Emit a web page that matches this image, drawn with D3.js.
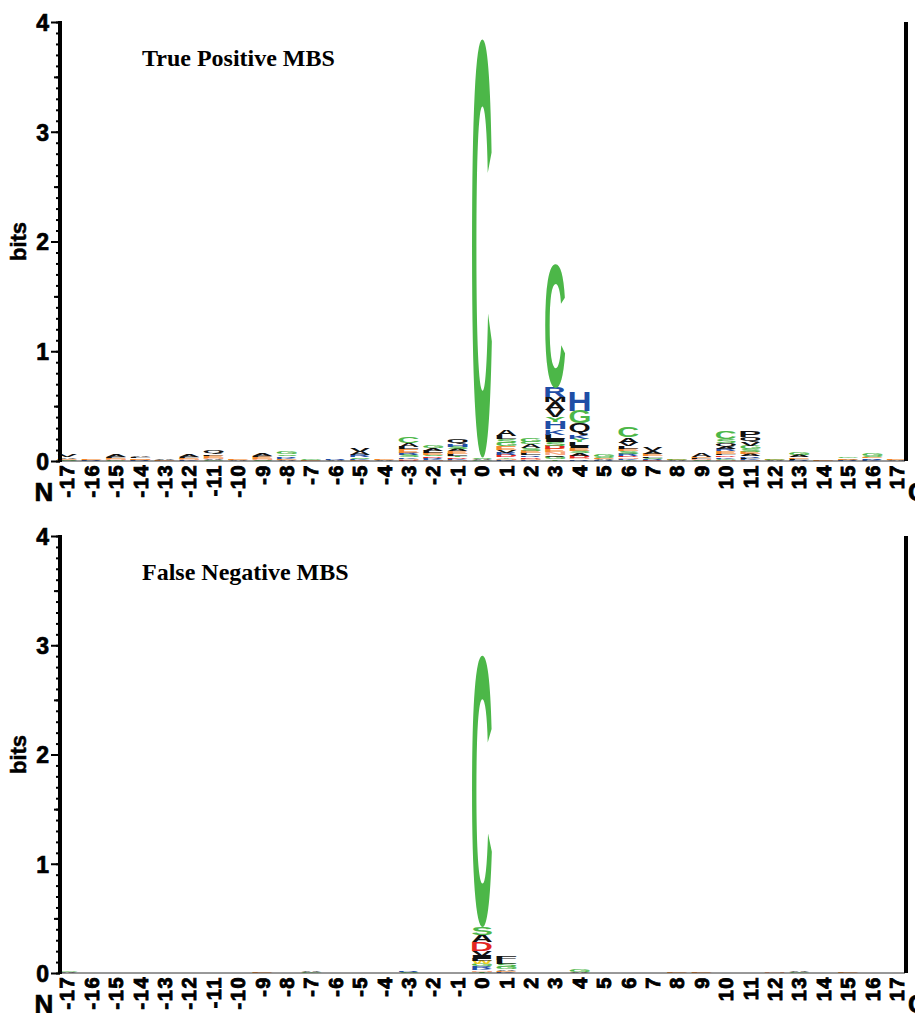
<!DOCTYPE html>
<html>
<head>
<meta charset="utf-8">
<script src="https://cdn.jsdelivr.net/npm/d3@7"></script>
<style>
  html, body { margin: 0; padding: 0; background: #fff; overflow: hidden; }
  svg { display: block; }
</style>
</head>
<body>
<script>
// positions along the motif, -17 .. 17
var positions = [-17,-16,-15,-14,-13,-12,-11,-10,-9,-8,-7,-6,-5,-4,-3,-2,-1,0,1,2,3,4,5,6,7,8,9,10,11,12,13,14,15,16,17];
var yTicks = [0, 1, 2, 3, 4];

// stacks: letter and bits, listed from top of stack to bottom
var truePositive = {
  "-17": [["V",0.02],["A",0.015],["E",0.01],["S",0.008]],
  "-16": [["E",0.006],["R",0.005]],
  "-15": [["A",0.02],["L",0.012],["E",0.015],["N",0.008],["G",0.006]],
  "-14": [["A",0.015],["L",0.01],["E",0.012],["N",0.008],["R",0.005]],
  "-13": [["A",0.006],["E",0.005]],
  "-12": [["A",0.018],["L",0.01],["E",0.014],["N",0.01],["K",0.006]],
  "-11": [["Q",0.035],["L",0.015],["E",0.02],["N",0.012],["A",0.01],["G",0.006]],
  "-10": [["E",0.006],["A",0.005]],
  "-9":  [["A",0.02],["L",0.01],["E",0.02],["N",0.012],["S",0.008]],
  "-8":  [["G",0.025],["S",0.015],["R",0.015],["K",0.01],["E",0.012],["A",0.008]],
  "-7":  [["G",0.006],["E",0.005],["A",0.004]],
  "-6":  [["R",0.006],["A",0.005]],
  "-5":  [["V",0.035],["A",0.03],["R",0.02],["S",0.012],["K",0.012],["E",0.01]],
  "-4":  [["E",0.006],["A",0.005]],
  "-3":  [["C",0.06],["A",0.035],["L",0.025],["E",0.03],["R",0.02],["S",0.018],["K",0.015],["N",0.012],["D",0.01]],
  "-2":  [["G",0.025],["A",0.02],["L",0.018],["E",0.02],["S",0.015],["D",0.012],["R",0.012],["K",0.01],["N",0.008]],
  "-1":  [["Q",0.04],["H",0.025],["S",0.025],["A",0.02],["E",0.02],["L",0.018],["T",0.015],["D",0.012],["K",0.012],["N",0.01]],
  "0":   [["C",3.82],["S",0.012],["A",0.01],["G",0.008]],
  "1":   [["A",0.06],["L",0.03],["S",0.035],["G",0.03],["E",0.03],["V",0.025],["R",0.02],["D",0.02],["Y",0.015],["N",0.012],["K",0.01]],
  "2":   [["G",0.03],["C",0.025],["A",0.035],["S",0.025],["E",0.02],["L",0.02],["R",0.015],["D",0.015],["N",0.012],["K",0.01]],
  "3":   [["C",1.13],["R",0.09],["M",0.045],["A",0.07],["V",0.065],["Y",0.045],["H",0.065],["K",0.05],["L",0.04],["I",0.03],["S",0.03],["D",0.03],["E",0.03],["N",0.025],["Q",0.02],["G",0.02],["T",0.015]],
  "4":   [["H",0.18],["G",0.12],["Q",0.1],["K",0.04],["Y",0.03],["L",0.03],["I",0.025],["E",0.025],["S",0.02],["A",0.02],["D",0.02],["N",0.015],["R",0.015]],
  "5":   [["G",0.02],["S",0.012],["E",0.01],["A",0.01],["R",0.008]],
  "6":   [["C",0.09],["A",0.05],["V",0.03],["L",0.025],["E",0.025],["S",0.02],["R",0.02],["D",0.015],["N",0.012],["K",0.01],["Y",0.01]],
  "7":   [["V",0.03],["A",0.025],["E",0.02],["L",0.015],["S",0.012],["R",0.01],["D",0.008]],
  "8":   [["G",0.01],["E",0.006],["A",0.005]],
  "9":   [["A",0.03],["E",0.015],["L",0.01],["N",0.01],["S",0.006]],
  "10":  [["C",0.07],["S",0.03],["Q",0.035],["A",0.025],["R",0.02],["E",0.02],["L",0.015],["D",0.015],["K",0.015],["G",0.012],["N",0.01]],
  "11":  [["P",0.06],["Q",0.045],["V",0.035],["G",0.03],["S",0.025],["E",0.02],["A",0.02],["R",0.015],["L",0.012],["K",0.01],["N",0.008]],
  "12":  [["G",0.01],["E",0.006],["A",0.005]],
  "13":  [["G",0.025],["A",0.02],["E",0.015],["L",0.01],["R",0.008]],
  "14":  [["E",0.005],["A",0.004]],
  "15":  [["G",0.012],["E",0.012],["A",0.008],["R",0.005]],
  "16":  [["G",0.02],["S",0.012],["E",0.012],["R",0.012],["A",0.008],["K",0.005]],
  "17":  [["E",0.006],["A",0.005]]
};

var falseNegative = {
  "-17": [["G",0.015],["A",0.006]],
  "-16": [["A",0.004]],
  "-15": [["A",0.004]],
  "-14": [["A",0.004]],
  "-13": [["A",0.004]],
  "-12": [["A",0.004]],
  "-11": [["A",0.004]],
  "-10": [["A",0.004]],
  "-9":  [["E",0.006]],
  "-8":  [["A",0.004]],
  "-7":  [["A",0.012],["G",0.006]],
  "-6":  [["A",0.004]],
  "-5":  [["A",0.004]],
  "-4":  [["A",0.004]],
  "-3":  [["R",0.01],["S",0.006]],
  "-2":  [["A",0.004]],
  "-1":  [["A",0.004]],
  "0":   [["C",2.49],["S",0.075],["A",0.065],["D",0.075],["V",0.045],["I",0.03],["L",0.02],["W",0.03],["G",0.02],["R",0.02],["K",0.015],["N",0.015],["T",0.01]],
  "1":   [["F",0.035],["L",0.03],["S",0.03],["G",0.02],["A",0.015],["E",0.01],["K",0.01]],
  "2":   [["A",0.004]],
  "3":   [["A",0.004]],
  "4":   [["G",0.02],["A",0.008]],
  "5":   [["G",0.004]],
  "6":   [["A",0.004]],
  "7":   [["A",0.004]],
  "8":   [["E",0.006]],
  "9":   [["E",0.006]],
  "10":  [["A",0.004]],
  "11":  [["A",0.004]],
  "12":  [["N",0.006]],
  "13":  [["A",0.01],["G",0.005]],
  "14":  [["A",0.004]],
  "15":  [["E",0.006]],
  "16":  [["G",0.004]],
  "17":  [["A",0.004]]
};

var colors = {
  C:"#4cb748", G:"#4cb748", S:"#4cb748", T:"#4cb748", Y:"#4cb748",
  H:"#1f4ea6", K:"#1f4ea6", R:"#1f4ea6",
  A:"#111", V:"#111", L:"#111", I:"#111", P:"#111", F:"#111", M:"#111", Q:"#111",
  D:"#e3261f", E:"#f4862a", N:"#f7a57f", W:"#f2cf25"
};

var W = 915, H = 1013;
var svg = d3.select("body").append("svg").attr("width", W).attr("height", H);

var x = d3.scaleBand().domain(positions).range([55, 55 + 35 * 24.4]);
var letterW = 20;

// glyph bounds from canvas so letters can be stretched to fill their slot
var FAM = "'Liberation Sans', Arial, sans-serif";
var ctx = document.createElement("canvas").getContext("2d");
ctx.font = "bold 100px " + FAM;
var gm = {};
function glyph(L) {
  if (!gm[L]) {
    var m = ctx.measureText(L);
    gm[L] = { x0: -m.actualBoundingBoxLeft, x1: m.actualBoundingBoxRight,
              y0: -m.actualBoundingBoxAscent, y1: m.actualBoundingBoxDescent };
  }
  return gm[L];
}

function drawPanel(stacks, title, yBase, yTopPx) {
  var y = d3.scaleLinear().domain([0, 4]).range([yBase, yTopPx]);
  var g = svg.append("g");

  // letters
  positions.forEach(function(p) {
    var st = stacks[String(p)].slice().reverse();
    var base = 0;
    var cx = x(p) + x.bandwidth() / 2;
    st.forEach(function(d) {
      var L = d[0], h = d[1];
      var top = y(base + h), bot = y(base);
      base += h;
      var hp = bot - top;
      if (hp <= 0) return;
      var gb = glyph(L);
      var sx = letterW / (gb.x1 - gb.x0), sy = hp / (gb.y1 - gb.y0);
      g.append("text")
        .attr("transform", "translate(" + (cx - letterW / 2) + "," + top + ") scale(" + sx + "," + sy + ") translate(" + (-gb.x0) + "," + (-gb.y0) + ")")
        .style("font", "bold 100px " + FAM)
        .attr("fill", colors[L] || "#111")
        .text(L);
    });
  });

  // baseline
  g.append("line").attr("x1", 60).attr("x2", 905).attr("y1", yBase).attr("y2", yBase)
    .attr("stroke", "#333").attr("stroke-width", 1);

  // minor ticks
  var minor = g.append("g").attr("transform", "translate(60,0)")
    .call(d3.axisLeft(y).tickValues(d3.range(0, 4.001, 0.1)).tickSize(4).tickFormat(""));
  minor.select(".domain").remove();
  minor.selectAll("line").attr("stroke", "#000").attr("stroke-width", 2);

  var mid = g.append("g").attr("transform", "translate(60,0)")
    .call(d3.axisLeft(y).tickValues([0.5, 1.5, 2.5, 3.5]).tickSize(6).tickFormat(""));
  mid.select(".domain").remove();
  mid.selectAll("line").attr("stroke", "#000").attr("stroke-width", 2);

  var major = g.append("g").attr("transform", "translate(60,0)")
    .call(d3.axisLeft(y).tickValues(yTicks).tickSize(9).tickPadding(2).tickFormat(d3.format("d")));
  major.select(".domain").remove();
  major.selectAll("line").attr("stroke", "#000").attr("stroke-width", 2);
  major.selectAll("text").attr("fill", "#000")
    .style("font", "bold 23px " + FAM).attr("dy", "0.36em")
    .attr("stroke", "#000").attr("stroke-width", 0.7);

  // y axis line + right frame line
  g.append("line").attr("x1", 60).attr("x2", 60).attr("y1", yTopPx - 1).attr("y2", yBase + 1)
    .attr("stroke", "#000").attr("stroke-width", 4);
  g.append("line").attr("x1", 906).attr("x2", 906).attr("y1", yTopPx).attr("y2", yBase)
    .attr("stroke", "#000").attr("stroke-width", 4);

  // x labels, rotated to read upward
  var xl = g.append("g").attr("transform", "translate(0," + (yBase + 3) + ")")
    .call(d3.axisBottom(x).tickSize(0).tickPadding(0));
  xl.select(".domain").remove();
  xl.selectAll("text")
    .attr("transform", "rotate(-90)")
    .attr("x", 0).attr("y", 0)
    .attr("dy", "0.36em")
    .attr("text-anchor", "end")
    .attr("fill", "#000")
    .attr("stroke", "#000").attr("stroke-width", 0.9)
    .style("font", "bold 20px " + FAM)
    .style("letter-spacing", "1.5px");
  xl.selectAll(".tick").attr("transform", function(d) { return "translate(" + (x(d) + x.bandwidth() / 2) + ",0)"; });

  g.append("text").attr("x", 44).attr("y", yBase + 40).attr("text-anchor", "middle")
    .attr("stroke", "#000").attr("stroke-width", 0.7)
    .style("font", "bold 26px " + FAM).text("N");
  g.append("text").attr("x", 908).attr("y", yBase + 40)
    .attr("stroke", "#000").attr("stroke-width", 0.7)
    .style("font", "bold 26px " + FAM).text("C");

  g.append("text")
    .attr("transform", "translate(26," + ((yBase + yTopPx) / 2) + ") rotate(-90)")
    .attr("text-anchor", "middle")
    .attr("stroke", "#000").attr("stroke-width", 0.5)
    .style("font", "bold 22px " + FAM).text("bits");

  g.append("text").attr("x", 142).attr("y", yTopPx + 44)
    .style("font", "bold 24px 'Liberation Serif', 'Times New Roman', serif").text(title);
}

drawPanel(truePositive, "True Positive MBS", 461, 22);
drawPanel(falseNegative, "False Negative MBS", 973, 536);
</script>
</body>
</html>
